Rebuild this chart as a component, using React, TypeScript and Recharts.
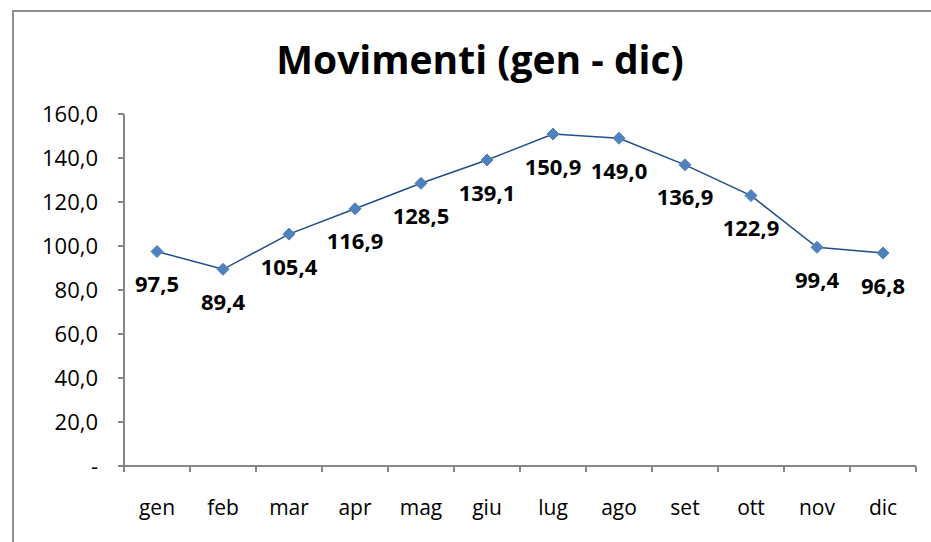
import React from "react";
import { LineChart, Line, XAxis, YAxis, LabelList } from "recharts";

const months = ["gen", "feb", "mar", "apr", "mag", "giu", "lug", "ago", "set", "ott", "nov", "dic"];
const movimenti = [97.5, 89.4, 105.4, 116.9, 128.5, 139.1, 150.9, 149.0, 136.9, 122.9, 99.4, 96.8];
const yTicks = [0, 20, 40, 60, 80, 100, 120, 140, 160];

const data = months.map((m, i) => ({ month: m, value: movimenti[i] }));

const FONT = "'Open Sans', Calibri, sans-serif";
const AXIS = "#868686";

const fmt = (v: number) => (v === 0 ? "-" : v.toFixed(1).replace(".", ","));

const Diamond = (props: any) => {
  const { cx, cy } = props;
  if (cx == null || cy == null) return null;
  const r = 6;
  return (
    <path
      d={`M${cx},${cy - r} L${cx + r},${cy} L${cx},${cy + r} L${cx - r},${cy} Z`}
      fill="#4F81BD"
      stroke="#4F81BD"
    />
  );
};

// month label centred in its band, tick marks on the band edges (Excel style)
const MonthTick = (props: any) => {
  const { x, y, payload, index } = props;
  const half = payload?.offset ?? 33;
  const last = index === months.length - 1;
  return (
    <g>
      <line x1={x - half} y1={y} x2={x - half} y2={y + 6} stroke={AXIS} strokeWidth={2} />
      {last && <line x1={x + half} y1={y} x2={x + half} y2={y + 6} stroke={AXIS} strokeWidth={2} />}
      <text x={x} y={y + 49} textAnchor="middle" fill="#000" fontSize={21} fontFamily={FONT}>
        {payload.value}
      </text>
    </g>
  );
};

export default function App() {
  return (
    <div style={{ position: "absolute", left: 0, top: 0, width: 931, height: 542, background: "#fff", overflow: "hidden" }}>
      <svg width={931} height={542} style={{ position: "absolute", left: 0, top: 0 }}>
        <path d="M13,542 L13,11 L931,11" fill="none" stroke="#8f8f8f" strokeWidth={2} />
      </svg>
      <div
        style={{
          position: "absolute",
          left: 0,
          top: 30,
          width: 931,
          paddingLeft: 29,
          boxSizing: "border-box",
          textAlign: "center",
          fontFamily: FONT,
          fontWeight: 700,
          fontSize: 39,
          lineHeight: "58px",
          color: "#000",
        }}
      >
        Movimenti (gen - dic)
      </div>
      <div style={{ position: "absolute", left: 0, top: 0 }}>
        <LineChart width={931} height={542} data={data} margin={{ top: 114, right: 15, bottom: 16, left: 0 }}>
          <XAxis
            dataKey="month"
            scale="band"
            height={60}
            axisLine={{ stroke: AXIS, strokeWidth: 2 }}
            tickLine={false}
            tickSize={0}
            tickMargin={0}
            tick={<MonthTick />}
            interval={0}
          />
          <YAxis
            width={124}
            domain={[0, 160]}
            ticks={yTicks}
            tickFormatter={fmt}
            axisLine={{ stroke: AXIS, strokeWidth: 2 }}
            tickLine={{ stroke: AXIS, strokeWidth: 2 }}
            tickSize={6}
            tickMargin={20}
            tick={{ fill: "#000", fontSize: 22, fontFamily: FONT }}
            interval={0}
          />
          <Line
            type="linear"
            dataKey="value"
            stroke="#1F4E8C"
            strokeWidth={1.5}
            dot={<Diamond />}
            activeDot={false}
            isAnimationActive={false}
          >
            <LabelList
              dataKey="value"
              position="bottom"
              offset={25}
              formatter={(v: any) => fmt(Number(v))}
              style={{ fill: "#000", fontSize: 22, fontWeight: 700, fontFamily: FONT }}
            />
          </Line>
        </LineChart>
      </div>
    </div>
  );
}
